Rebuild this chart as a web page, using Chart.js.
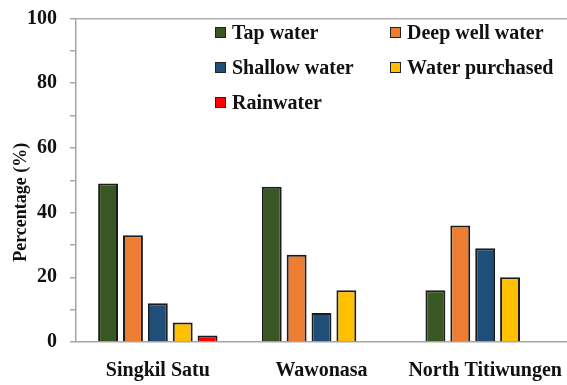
<!DOCTYPE html>
<html>
<head>
<meta charset="utf-8">
<script src="https://cdn.jsdelivr.net/npm/chart.js@4"></script>
<style>
  html, body { margin: 0; padding: 0; background: #fff; overflow: hidden; }
  #wrap { position: relative; width: 567px; height: 385px; }
  #legend { position: absolute; left: 0; top: 0; width: 567px; height: 120px; pointer-events: none;
            font-family: "Liberation Serif", "Times New Roman", serif; font-weight: bold; font-size: 20px; color: #111; }
  .item { position: absolute; display: flex; align-items: center; white-space: nowrap; line-height: 20px; }
  .box { width: 9px; height: 9px; border: 1px solid #222; margin-right: 6px; }
</style>
</head>
<body>
<div id="wrap">
  <canvas id="c" width="567" height="385"></canvas>
  <div id="legend"></div>
</div>
<script>
const categories = ["Singkil Satu", "Wawonasa", "North Titiwungen"];
const seriesNames = ["Tap water", "Deep well water", "Shallow water", "Water purchased", "Rainwater"];
const tapWater = [49, 48, 16];
const deepWellWater = [33, 27, 36];
const shallowWater = [12, 9, 29];
const waterPurchased = [6, 16, 20];
const rainwater = [2, 0, 0];
const yTicks = [0, 20, 40, 60, 80, 100];
const yTitle = "Percentage (%)";

const colors = ["#385723", "#ED7D31", "#1F4E79", "#FFC000", "#FF0000"];
const values = [tapWater, deepWellWater, shallowWater, waterPurchased, rainwater];
const FONT = "'Liberation Serif', 'Times New Roman', serif";

const datasets = seriesNames.map((name, i) => ({
  label: name,
  data: values[i],
  backgroundColor: colors[i],
  borderColor: "#1c1c1c",
  borderWidth: 2,
  borderSkipped: 'bottom',
  categoryPercentage: 0.76,
  barPercentage: 0.8
}));

// y-axis title drawn a little below the axis centre, as in the source figure
const yTitlePlugin = {
  id: 'yTitlePlugin',
  afterDraw(chart) {
    const ctx = chart.ctx;
    const area = chart.chartArea;
    ctx.save();
    ctx.translate(21, (area.top + area.bottom) / 2 + 22);
    ctx.rotate(-Math.PI / 2);
    ctx.font = "bold 18px " + FONT;
    ctx.fillStyle = '#111';
    ctx.textAlign = 'center';
    ctx.textBaseline = 'middle';
    ctx.fillText(yTitle, 0, 0);
    ctx.restore();
  }
};

const chart = new Chart(document.getElementById('c'), {
  type: 'bar',
  data: { labels: categories, datasets },
  plugins: [yTitlePlugin],
  options: {
    responsive: false,
    animation: false,
    layout: { padding: { top: 18.5, right: 0, left: 0, bottom: 0 } },
    plugins: { legend: { display: false }, tooltip: { enabled: false } },
    scales: {
      x: {
        grid: { display: false, drawTicks: false },
        border: { display: true, color: '#a6a6a6', width: 1.5 },
        ticks: { color: '#111', padding: 17, maxRotation: 0, minRotation: 0, autoSkip: false,
                 font: { family: FONT, size: 20, weight: 'bold' } },
        afterFit: s => { s.height = 43; s.paddingLeft = 0; s.paddingRight = 0; }
      },
      xTop: {
        position: 'top',
        grid: { display: false, drawTicks: false },
        border: { display: true, color: '#b0b0b0', width: 1.5 },
        ticks: { display: false },
        afterFit: s => { s.height = 0; s.paddingLeft = 0; s.paddingRight = 0; }
      },
      y: {
        min: 0, max: 100,
        grid: {
          drawOnChartArea: false,
          tickColor: '#a6a6a6',
          tickLength: 6,
          lineWidth: 1.5
        },
        border: { display: true, color: '#a6a6a6', width: 1.5 },
        ticks: {
          stepSize: 10,
          padding: 13,
          color: '#111',
          font: { family: FONT, size: 20, weight: 'bold' },
          callback: v => yTicks.includes(v) ? String(v) : ''
        },
        title: { display: false },
        afterFit: s => { s.width = 76; s.paddingTop = 0; s.paddingBottom = 0; }
      }
    }
  }
});

// HTML legend built from the chart's datasets
const legendPos = [[215, 32], [390, 32], [215, 67], [390, 67], [215, 102]];
const leg = document.getElementById('legend');
chart.data.datasets.forEach((ds, i) => {
  const it = document.createElement('div');
  it.className = 'item';
  it.style.left = legendPos[i][0] + 'px';
  it.style.top = (legendPos[i][1] - 10) + 'px';
  const b = document.createElement('span');
  b.className = 'box';
  b.style.background = ds.backgroundColor;
  const t = document.createElement('span');
  t.textContent = ds.label;
  it.appendChild(b); it.appendChild(t);
  leg.appendChild(it);
});
</script>
</body>
</html>
